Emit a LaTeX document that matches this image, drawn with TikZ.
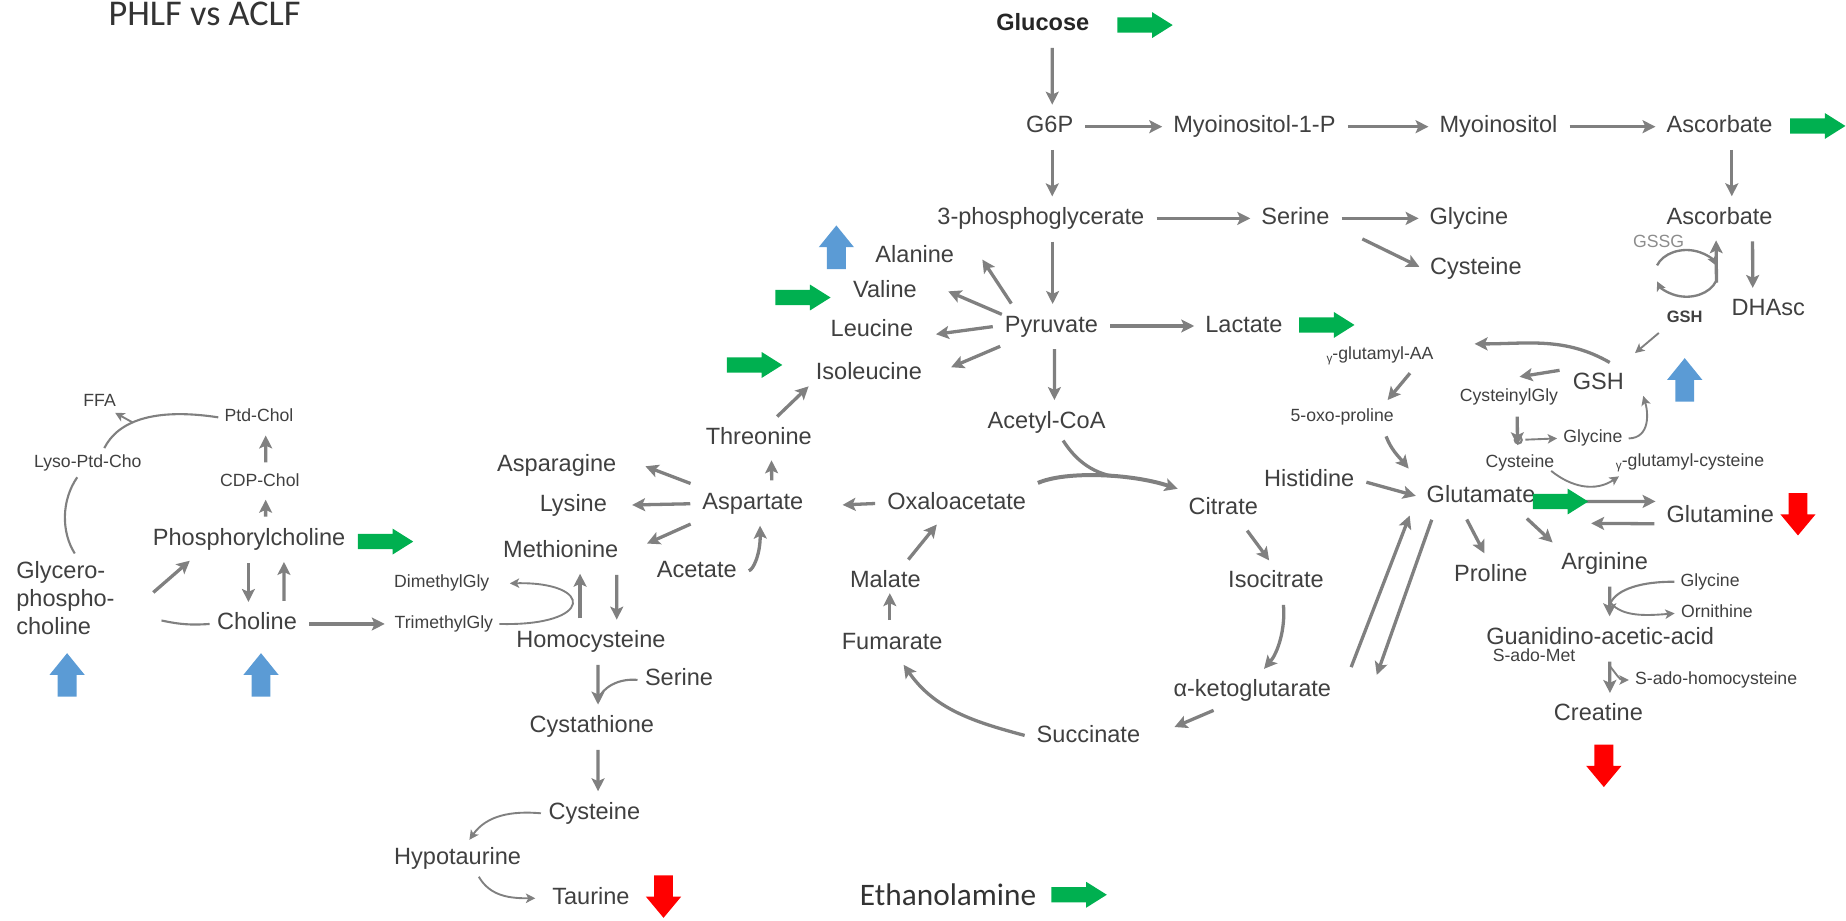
\documentclass[tikz,border=0pt]{standalone}
\usepackage{fontspec}
\setmainfont{Liberation Sans}
\newfontfamily\carlito{Carlito}
\usetikzlibrary{arrows.meta}
\definecolor{txt}{HTML}{404040}
\definecolor{arr}{HTML}{808080}
\definecolor{ggreen}{HTML}{00B050}
\definecolor{bblue}{HTML}{5B9BD5}
\definecolor{rred}{HTML}{FF0000}
\newcommand{\gsub}{\raisebox{-1.5pt}{\fontsize{5}{5}\selectfont γ}}
\tikzset{
 greenarrow/.pic={\fill[ggreen] (-23.5,-6.5) -- (6,-6.5) -- (6,-11) -- (23.5,0) -- (6,11) -- (6,6.5) -- (-23.5,6.5) -- cycle;},
 bluearrow/.pic={\fill[bblue] (-8,18.5) -- (-8,0) -- (-15,0) -- (0,-18.5) -- (15,0) -- (8,0) -- (8,18.5) -- cycle;},
 redarrow/.pic={\fill[rred] (-8,-18) -- (-8,0) -- (-15,0) -- (0,18) -- (15,0) -- (8,0) -- (8,-18) -- cycle;},
}
\begin{document}
\begin{tikzpicture}[x=0.5pt,y=-0.5pt,
  base/.style={inner sep=3pt, text=txt},
  mt/.style={base, font=\fontsize{10}{12}\selectfont, text height=7.2pt, text depth=2.1pt},
  st/.style={inner sep=2.5pt, text=txt, font=\fontsize{7.5}{9}\selectfont, text height=5.4pt, text depth=1.6pt},
  ar/.style={draw=arr, line width=1.4pt, -{Stealth[length=5.5pt,width=5.5pt,inset=1.2pt]}, shorten <=2pt, shorten >=1.5pt},
  sar/.style={draw=arr, line width=0.8pt, -{Stealth[length=4pt,width=4pt,inset=1pt]}},
  ln/.style={draw=arr, line width=1.4pt},
  sln/.style={draw=arr, line width=0.9pt}]
\useasboundingbox (0,0) rectangle (1568,782);

% ---------- title
\node[anchor=base, font=\carlito\fontsize{15.4}{18}\selectfont, text=black!80, inner sep=0pt] (title) at (173.8,21.5) {PHLF vs ACLF};

% ---------- top / glycolysis
\node[mt, font=\bfseries\fontsize{10}{12}\selectfont, text=black!85] (glc) at (885.7,21) {Glucose};
\node[mt] (g6p) at (891.6,107.6) {G6P};
\node[mt] (myo1p) at (1065.5,107.6) {Myoinositol-1-P};
\node[mt] (myo) at (1272.8,107.6) {Myoinositol};
\node[mt] (asc1) at (1460.6,107.6) {Ascorbate};
\node[mt] (pg3) at (884.1,185.5) {3-phosphoglycerate};
\node[mt] (ser) at (1100.3,185.5) {Serine};
\node[mt] (gly1) at (1247.7,185.5) {Glycine};
\node[mt] (cys1) at (1253.6,227.9) {Cysteine};
\node[mt] (asc2) at (1460.6,185.4) {Ascorbate};
\node[mt] (dhasc) at (1502,263.3) {DHAsc};
\node[st, text=black!45] (gssg) at (1408.9,206.7) {GSSG};
\node[st, font=\bfseries\fontsize{7}{8}\selectfont] (gshs) at (1431,270.4) {GSH};
\node[mt] (gsh) at (1357.7,325.6) {GSH};

% ---------- glutathione / glutamate
\node[st] (ggaa) at (1172.2,301.5) {\gsub-glutamyl-AA};
\node[st] (oxopro) at (1140,354.5) {5-oxo-proline};
\node[st] (cysgly) at (1281.7,337.5) {CysteinylGly};
\node[st] (gly2) at (1353,372.4) {Glycine};
\node[st] (cys2) at (1291,393.6) {Cysteine};
\node[st] (ggc) at (1435.5,392.2) {\gsub-glutamyl-cysteine};
\node[mt] (his) at (1112,408.5) {Histidine};
\node[mt] (glu) at (1258,422) {Glutamate};
\node[mt] (gln) at (1461.2,438.9) {Glutamine};
\node[mt] (pro) at (1266.3,488.4) {Proline};
\node[mt] (arg) at (1363,478.5) {Arginine};
\node[st] (gly3) at (1452.6,494.1) {Glycine};
\node[st] (orn) at (1458.3,521) {Ornithine};
\node[mt] (gaa) at (1359.2,542.2) {Guanidino-acetic-acid};
\node[st] (sadomet) at (1303,557.8) {S-ado-Met};
\node[st] (sah) at (1457.7,577.6) {S-ado-homocysteine};
\node[mt] (crea) at (1357.7,607.3) {Creatine};

% ---------- pyruvate / amino acids / TCA
\node[mt] (pyr) at (893.1,276.9) {Pyruvate};
\node[mt] (lac) at (1056.6,276.9) {Lactate};
\node[mt] (ala) at (777,218) {Alanine};
\node[mt] (val) at (751.7,247.8) {Valine};
\node[mt] (leu) at (740.6,280.3) {Leucine};
\node[mt] (ile) at (738,317.1) {Isoleucine};
\node[mt] (acoa) at (889,358.5) {Acetyl-CoA};
\node[mt] (thr) at (644.5,372.3) {Threonine};
\node[mt] (asp) at (639.5,427.8) {Aspartate};
\node[mt] (asn) at (472.9,395) {Asparagine};
\node[mt] (lys) at (487,429) {Lysine};
\node[mt] (met) at (476.3,468.6) {Methionine};
\node[mt] (acet) at (591.8,485.6) {Acetate};
\node[mt] (oaa) at (812.6,427.5) {Oxaloacetate};
\node[mt] (cit) at (1039,431.8) {Citrate};
\node[mt] (icit) at (1083.8,494.1) {Isocitrate};
\node[mt] (akg) at (1063.7,586.1) {α-ketoglutarate};
\node[mt] (suc) at (924.5,625.7) {Succinate};
\node[mt] (fum) at (757.8,546.5) {Fumarate};
\node[mt] (mal) at (752,494.1) {Malate};
\node[mt] (hcy) at (501.9,545) {Homocysteine};
\node[mt] (ser2) at (576.8,577.5) {Serine};
\node[mt] (cysta) at (502.7,617.2) {Cystathione};
\node[mt] (cys3) at (504.8,690.8) {Cysteine};
\node[mt] (hypo) at (388.7,729) {Hypotaurine};
\node[mt] (tau) at (501.9,763) {Taurine};
\node[font=\carlito\fontsize{13.3}{16}\selectfont, text=black!80, inner sep=3pt] (etn) at (805.3,760.2) {Ethanolamine};

% ---------- choline part
\node[st] (dmg) at (375.2,495.5) {DimethylGly};
\node[st] (tmg) at (377,530) {TrimethylGly};
\node[st] (ptdchol) at (220,354.5) {Ptd-Chol};
\node[st] (cdpchol) at (220.7,409.1) {CDP-Chol};
\node[st] (ffa) at (84.6,341.2) {FFA};
\node[st] (lyso) at (74.6,393) {Lyso-Ptd-Cho};
\node[mt] (phos) at (211.6,458.6) {Phosphorylcholine};
\node[mt] (chol) at (218.3,530) {Choline};
\node[base, font=\fontsize{10}{12}\selectfont, align=left, anchor=north west] (gpc) at (7.5,470.1) {Glycero-\\phospho-\\choline};

% ---------- junction coordinates
\coordinate (ffaj) at (113,359);
\coordinate (tcaj) at (945,404.5);
\coordinate (j1) at (508,594);
\coordinate (cyc) at (1432.5,232.2);
\coordinate (cycr) at (1458,244);
\coordinate (cgj) at (1289.6,373.7);
\coordinate (aj) at (1368,512);
\coordinate (sj) at (1367.5,566);

% ---------- connectors: top
\draw[ar] ([xshift=4pt]glc.south) -- ([xshift=1.1pt]g6p.north);
\draw[ar] (g6p.east) -- (myo1p.west);
\draw[ar] (myo1p.east) -- (myo.west);
\draw[ar] (myo.east) -- (asc1.west);
\draw[ar] ([xshift=1.1pt]g6p.south) -- ([xshift=4.85pt]pg3.north);
\draw[ar] (pg3.east) -- (ser.west);
\draw[ar] (ser.east) -- (gly1.west);
\draw[ar] ([xshift=9pt]ser.south east) -- (cys1.west);
\draw[ar] ([xshift=5pt]pg3.south) -- ([xshift=0.5pt]pyr.north);
\draw[ar] (pyr.east) -- (lac.west);
\draw[ar] ([xshift=1.3pt]pyr.south) -- ([xshift=3.3pt]acoa.north);
\draw[ar] ([xshift=7pt]pyr.north west) -- ([xshift=8pt]ala.east);
\draw[ar] ([xshift=3.7pt,yshift=-3.7pt]pyr.north west) -- ([xshift=8.75pt,yshift=0.75pt]val.east);
\draw[ar] (pyr.west) -- ([xshift=5pt,yshift=-2pt]leu.east);
\draw[ar] ([xshift=3pt]pyr.south west) -- ([xshift=7.85pt,yshift=2pt]ile.east);
\draw[ar] ([xshift=6.35pt]thr.north) -- ([xshift=1.2pt,yshift=3.35pt]ile.south west);
\draw[ar] ([xshift=8pt]asp.north) -- ([xshift=5.4pt]thr.south);
\draw[ar] (oaa.west) -- ([xshift=12pt,yshift=-0.6pt]asp.east);
\draw[ar] (asp.north west) -- ([xshift=7.75pt]asn.east);
\draw[ar] (asp.west) -- ([xshift=6pt]lys.east);
\draw[ar] (asp.south west) -- ([xshift=7.6pt,yshift=2.85pt]met.east);
\draw[ar] (acet.east) .. controls (640,484) and (646,470) .. ([xshift=3pt]asp.south);

% ---------- TCA
\draw[ar, line width=1.7pt] (oaa.north east) .. controls (905,400) and (960,402) .. (cit.north west);
\draw[ln] ([xshift=7pt]acoa.south) .. controls (910,385) and (922,400) .. (tcaj);
\draw[ar] ([xshift=9pt]cit.south) -- ([xshift=-2pt]icit.north);
\draw[ar] ([xshift=3pt]icit.south) .. controls (1092,535) and (1085,555) .. ([xshift=4pt]akg.north);
\draw[ar] ([xshift=-14.6pt]akg.south) -- ([xshift=10pt,yshift=3.5pt]suc.east);
\draw[ar] (suc.west) to[out=165,in=-55] ([xshift=4pt]fum.south);
\draw[ar, shorten >=-3pt] ([xshift=-1pt]fum.north) -- ([xshift=1.9pt]mal.south);
\draw[ar] ([xshift=8.5pt]mal.north) -- ([xshift=-7.5pt]oaa.south);

% ---------- glutamate / glutathione
\draw[ar] ([xshift=4.6pt]akg.north east) -- ([xshift=-3.5pt,yshift=1.3pt]glu.south west);
\draw[ar] ([xshift=6pt]glu.south west) -- ([xshift=15.7pt,yshift=5pt]akg.east);
\draw[ar] (his.east) -- (glu.west);
\draw[ar] ([xshift=18pt]oxopro.south) to[out=-70,in=130] ([xshift=-3.5pt,yshift=3pt]glu.north west);
\draw[ar] ([xshift=14pt]ggaa.south) -- ([xshift=18.35pt]oxopro.north);
\draw[ar] ([xshift=-7.5pt]gsh.north east) to[out=150,in=0] ([xshift=13.25pt,yshift=-1.5pt]ggaa.north east);
\draw[ar] ([xshift=-0.5pt,yshift=-2pt]gsh.north west) -- ([xshift=3pt,yshift=2.3pt]cysgly.north);
\draw[ar] ([xshift=3.5pt]cysgly.south) -- ([xshift=-1pt]cys2.north);
\draw[sln] (cgj) circle[radius=3];
\draw[sar, shorten <=3pt] (cgj) -- (gly2.west);
\draw[sar] (gly2.east) .. controls (1402,372) and (1400,350) .. ([xshift=5pt,yshift=2.5pt]gsh.south east);
\draw[sar] ([xshift=-4pt,yshift=3pt]cys2.south east) .. controls (1335,414) and (1355,418) .. ([xshift=4pt]ggc.south west);
\draw[ar] ([yshift=-2pt]glu.east) -- ([yshift=6.5pt]gln.west);
\draw[ar] ([yshift=-3pt]gln.west) -- ([xshift=19pt,yshift=-11.25pt]glu.east);
\draw[ar] ([xshift=-7pt]glu.south) -- ([xshift=-2pt]pro.north);
\draw[ar] ([xshift=18pt]glu.south) -- ([xshift=-21pt]arg.north);
\draw[ar] ([xshift=2.2pt]arg.south) -- ([xshift=4pt]gaa.north);
\draw[sln] (gly3.west) .. controls (1395,494) and (1374,500) .. (aj);
\draw[sar] (aj) .. controls (1378,524) and (1398,523) .. (orn.west);
\draw[ar] ([xshift=4pt]gaa.south) -- ([xshift=4.9pt]crea.north);
\draw[sar] (sj) to[out=-50,in=180] (sah.west);

% ---------- ascorbate
\draw[ar] ([xshift=5.2pt]asc1.south) -- ([xshift=5.2pt]asc2.north);
\draw[ar] ([xshift=14pt]asc2.south) -- ([xshift=-6.6pt]dhasc.north);
\draw[sar, line width=1pt] ([shift={(-25,-6.8)}]cyc) arc[start angle=-160, end angle=-20, x radius=26.6, y radius=19.8];
\draw[sar, line width=1pt] ([shift={(25,6.8)}]cyc) arc[start angle=20, end angle=160, x radius=26.6, y radius=19.8];
\draw[ar] (cycr) -- ([xshift=-1.5pt]asc2.south);
\draw[sar] ([xshift=-11pt]gshs.south) -- ([xshift=1.5pt,yshift=5pt]gsh.north east);

% ---------- choline part
\draw[sln] (ptdchol.west) .. controls (130,346) and (100,358) .. ([xshift=7pt]lyso.north);
\draw[sar] (ffaj) -- ([xshift=-3pt,yshift=1.5pt]ffa.south east);
\draw[sln] ([xshift=-4.5pt]lyso.south) .. controls (52,425) and (52,452) .. ([xshift=28pt]gpc.north west);
\draw[ar] ([xshift=11.75pt,yshift=1pt]gpc.east) -- ([xshift=20pt]phos.south west);
\draw[sln] ([xshift=16.75pt,yshift=-9.6pt]gpc.east) to[bend right=8] (chol.west);
\draw[ar] ([xshift=-0.3pt]phos.south) -- ([xshift=-3.65pt]chol.north);
\draw[ar] ([xshift=11.45pt]chol.north) -- ([xshift=14.8pt]phos.south);
\draw[ar] ([xshift=7pt]phos.north) -- ([xshift=2.5pt]cdpchol.south);
\draw[ar] ([xshift=2.5pt]cdpchol.north) -- ([xshift=2.85pt]ptdchol.south);
\draw[ar] (chol.east) -- (tmg.west);
\draw[sar] (tmg.east) .. controls (505,532) and (505,494) .. ([xshift=6pt]dmg.east);

% ---------- methionine cycle / taurine
\draw[ar] ([xshift=-4.6pt]hcy.north) -- ([xshift=8.2pt]met.south);
\draw[ar] ([xshift=23.75pt]met.south) -- ([xshift=11pt]hcy.north);
\draw[ar] ([xshift=3pt]hcy.south) -- ([xshift=2.65pt]cysta.north);
\draw[sln] (ser2.west) .. controls (525,576) and (512,584) .. (j1);
\draw[ar] ([xshift=2.65pt]cysta.south) -- ([xshift=1.6pt]cys3.north);
\draw[sar] (cys3.west) to[out=175,in=55] ([xshift=5pt]hypo.north);
\draw[sar] ([xshift=9pt]hypo.south) to[out=-60,in=180] ([xshift=-4pt]tau.west);

% ---------- change indicators
\pic at (972.6,21.3) {greenarrow};
\pic at (1544,107) {greenarrow};
\pic at (1127,276) {greenarrow};
\pic at (682,252.7) {greenarrow};
\pic at (641,310) {greenarrow};
\pic at (327.5,460) {greenarrow};
\pic at (1325.5,426) {greenarrow};
\pic at (916.6,760) {greenarrow};
\pic at (710.4,210) {bluearrow};
\pic at (57,573.3) {bluearrow};
\pic at (221.7,573.3) {bluearrow};
\pic at (1431,322.7) {bluearrow};
\pic at (563.6,761.6) {redarrow};
\pic at (1527.2,436.8) {redarrow};
\pic at (1362.3,650.5) {redarrow};
\end{tikzpicture}
\end{document}
